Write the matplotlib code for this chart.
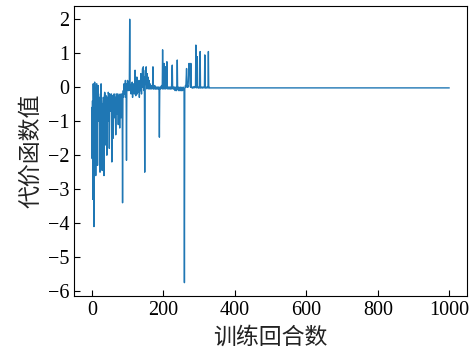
import matplotlib.pyplot as plt

plt.rcParams['font.family'] = ['Liberation Serif', 'DejaVu Serif']

# cost per training episode, episodes 0-329 (unstable phase)
cost_early = [
    -0.6, -2.1, -0.4, -3.3, 0.1, -0.9, -4.1, -0.3, 0.15, -1.8,
    -0.5, -2.6, -0.2, 0.1, 0.1, -0.6, -2.3, -0.4, 0.05, -1.0,
    -0.3, -0.3, -0.7, -2.5, -0.2, -0.2, 0.1, -0.8, -0.8, -2.45,
    -0.5, -0.5, -0.3, -0.35, -2.6, -0.3, -0.15, -0.2, -1.7, -0.3,
    -0.25, -0.3, -2.0, -0.3, -0.3, -1.0, -0.15, -0.2, -0.2, -1.8,
    -0.2, -0.25, -0.7, -0.7, -0.2, -0.2, -2.2, -0.25, -0.3, -0.3,
    -1.5, -0.3, -0.2, -0.2, -0.9, -0.3, -0.3, -1.4, -0.2, -0.2,
    -0.25, -0.8, -0.2, -0.2, -1.1, -0.3, -0.3, -0.25, -1.2, -0.2,
    -0.25, -0.3, -0.9, -0.2, -0.2, -0.5, -3.4, -0.3, -0.1, -0.3,
    0.1, -0.2, 0.05, -0.1, 0.2, -0.3, 0.0, -2.15, 0.1, -0.05,
    0.2, -0.1, 0.15, 0.0, -0.1, 0.2, 2.0, 0.1, -0.1, 0.05,
    -0.2, 0.1, -0.05, 0.15, -0.3, 0.0, 0.1, -0.15, 0.05, -0.2,
    -0.1, 0.5, 0.0, -0.25, 0.1, -0.1, 0.3, -0.2, 0.0, 0.2,
    -0.15, 0.05, 0.1, -0.3, 0.0, 0.2, -0.1, 0.4, 0.05, -0.2,
    0.1, 0.3, 0.55, 0.0, 0.6, 0.2, -0.1, 0.3, -2.5, 0.1,
    0.5, 0.2, 0.6, 0.1, -0.05, 0.4, 0.0, 0.3, 0.1, -0.05,
    0.2, 0.0, -0.05, 0.1, 0.0, -0.05, 0.05, 0.0, -0.05, 0.0,
    0.0, 0.6, -0.05, 0.0, -0.05, 0.0, 0.05, -0.05, 0.0, -0.05,
    0.0, -0.05, 0.0, 0.0, -0.05, 0.0, -0.05, 0.0, 0.0, -1.47,
    -0.05, 0.0, -0.05, 0.0, 0.0, 0.05, 0.0, -0.05, 1.1, 0.0,
    -0.05, 0.0, 0.7, 0.0, -0.05, 0.0, 0.6, -0.05, 0.0, 0.0,
    0.75, 0.0, -0.05, 0.0, 0.0, -0.05, 0.0, 0.0, -0.05, 0.0,
    -0.05, 0.0, 0.0, -0.05, 0.4, 0.65, 0.0, -0.05, 0.0, -0.05,
    0.0, -0.05, 0.0, -0.1, -0.05, 0.0, -0.05, -0.1, 0.0, 0.8,
    -0.05, 0.0, -0.05, -0.1, 0.0, -0.05, -0.1, -0.05, 0.0, -0.1,
    -0.05, -0.1, 0.0, -0.05, -0.1, -0.05, 0.0, -0.05, -0.1, -5.75,
    -0.05, 0.0, 0.05, 0.0, 0.3, 0.55, 0.1, 0.0, 0.05, 0.0,
    0.2, 0.5, 0.7, 0.4, 0.6, 0.1, 0.0, 0.7, 0.05, 0.0,
    -0.02, 0.0, -0.02, 0.0, -0.02, 0.0, 0.02, 0.0, -0.02, 0.0,
    0.0, 1.24, 0.0, -0.02, 0.0, 0.9, 0.0, -0.02, 0.0, -0.02,
    0.0, -0.02, 0.0, 1.05, -0.02, 0.0, -0.02, 0.0, 0.0, -0.02,
    0.0, -0.02, 0.0, 0.0, -0.02, 0.0, 0.95, -0.02, 0.0, -0.02,
    0.0, -0.02, 0.0, 0.0, -0.02, 0.0, 1.05, -0.02, 0.0, -0.02,
]
# converged cost, episodes 330-999
cost_late = [-0.02] * 670

cost = cost_early + cost_late
episodes = list(range(len(cost)))

fig = plt.figure(figsize=(4.74, 3.56), dpi=100)
ax = fig.add_axes([0.156, 0.169, 0.829, 0.814])
ax.plot(episodes, cost, color='#1f77b4', linewidth=1.0)

ax.set_xticks([0, 200, 400, 600, 800, 1000])
ax.set_yticks([-6, -5, -4, -3, -2, -1, 0, 1, 2])
ax.set_yticklabels(['\u22126', '\u22125', '\u22124', '\u22123', '\u22122',
                    '\u22121', '0', '1', '2'])
ax.tick_params(direction='in', labelsize=14.5, length=4)

cjk = ['Noto Sans CJK SC', 'DejaVu Sans']
ax.set_xlabel('训练回合数', fontsize=16.5, family=cjk, color='#222222')
ax.set_ylabel('代价函数值', fontsize=16.5, family=cjk, color='#222222')

fig.savefig('out.png', dpi=100)
